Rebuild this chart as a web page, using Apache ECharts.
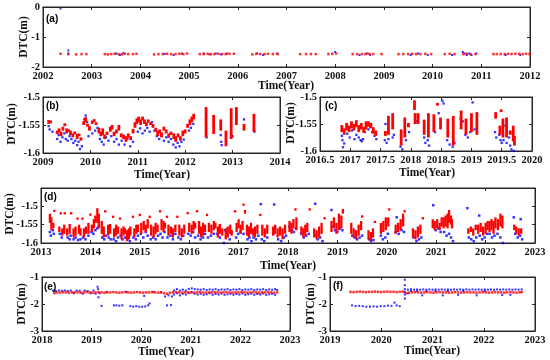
<!DOCTYPE html>
<html><head><meta charset="utf-8">
<script src="https://cdn.jsdelivr.net/npm/echarts@6/dist/echarts.min.js"></script>
<style>html,body{margin:0;padding:0;background:#fff}#c{width:550px;height:360px}</style>
</head><body><div id="c"></div>
<script>
// ---------- DATA ----------
// Panel (a): [year, DTC]
const A_RED = [[2002.36,-1.56],[2002.52,-1.57],[2002.68,-1.58],[2002.79,-1.57],[2002.89,-1.57],
[2003.27,-1.57],[2003.33,-1.58],[2003.4,-1.57],[2003.47,-1.56],[2003.55,-1.57],[2003.62,-1.58],[2003.68,-1.56],[2003.75,-1.57],[2003.85,-1.57],[2003.92,-1.56],
[2004.28,-1.58],[2004.37,-1.57],[2004.46,-1.57],[2004.55,-1.56],[2004.63,-1.57],[2004.72,-1.57],[2004.8,-1.56],[2004.88,-1.57],[2004.96,-1.55],
[2005.22,-1.57],[2005.3,-1.57],[2005.38,-1.56],[2005.45,-1.57],[2005.52,-1.57],[2005.6,-1.56],[2005.68,-1.57],[2005.75,-1.57],[2005.83,-1.56],[2005.92,-1.56],
[2006.3,-1.58],[2006.38,-1.56],[2006.46,-1.57],[2006.55,-1.57],[2006.62,-1.56],[2006.72,-1.57],[2006.82,-1.57],
[2007.28,-1.57],[2007.4,-1.57],[2007.5,-1.57],[2007.6,-1.57],[2007.86,-1.57],[2007.94,-1.56],[2008.02,-1.55],
[2008.36,-1.57],[2008.45,-1.57],[2008.55,-1.57],[2008.62,-1.57],[2008.7,-1.56],[2008.78,-1.57],[2008.95,-1.57],
[2009.3,-1.57],[2009.4,-1.57],[2009.5,-1.57],[2009.58,-1.56],[2009.66,-1.57],[2009.75,-1.57],[2009.85,-1.56],[2009.97,-1.57],
[2010.25,-1.57],[2010.35,-1.56],[2010.45,-1.57],[2010.63,-1.57],[2010.7,-1.56],[2010.78,-1.57],[2010.88,-1.57],
[2011.25,-1.57],[2011.32,-1.57],[2011.4,-1.57],[2011.48,-1.57],[2011.55,-1.56],[2011.62,-1.57],[2011.7,-1.56],[2011.78,-1.56],[2011.85,-1.57],[2011.92,-1.56],[2011.99,-1.57]];
const A_BLUE = [[2002.36,-0.05],[2002.52,-1.45],[2002.52,-1.55],[2003.5,-1.55],[2003.58,-1.6],[2003.65,-1.54],[2004.5,-1.56],[2004.68,-1.6],[2004.85,-1.55],
[2005.3,-1.55],[2005.42,-1.58],[2005.55,-1.55],[2005.65,-1.58],[2005.78,-1.55],[2006.4,-1.55],[2006.52,-1.6],[2006.8,-1.55],[2008.0,-1.5],
[2008.5,-1.6],[2008.65,-1.55],[2008.72,-1.6],[2009.55,-1.6],[2009.7,-1.55],[2009.9,-1.6],[2010.4,-1.6],[2010.62,-1.5],[2010.66,-1.55],
[2010.7,-1.6],[2010.75,-1.55],[2010.8,-1.6],[2010.9,-1.55],[2011.5,-1.6],[2011.8,-1.6]];

// Panel (b): red [year, low, high], blue [year, DTC]
const B_RED = [[2009.12,-1.548,-1.541],[2009.16,-1.546,-1.543],
[2009.3,-1.566,-1.56],[2009.34,-1.563,-1.556],[2009.38,-1.57,-1.562],[2009.42,-1.56,-1.553],[2009.46,-1.552,-1.547],[2009.5,-1.565,-1.556],[2009.54,-1.562,-1.558],[2009.58,-1.568,-1.56],
[2009.63,-1.572,-1.565],[2009.67,-1.566,-1.562],[2009.72,-1.575,-1.566],[2009.76,-1.57,-1.565],[2009.8,-1.578,-1.572],
[2009.86,-1.55,-1.543],[2009.9,-1.545,-1.536],[2009.94,-1.553,-1.548],[2009.98,-1.56,-1.552],
[2010.04,-1.548,-1.542],[2010.08,-1.544,-1.54],[2010.12,-1.55,-1.545],
[2010.18,-1.565,-1.555],[2010.22,-1.57,-1.562],[2010.26,-1.568,-1.556],[2010.3,-1.575,-1.567],[2010.35,-1.568,-1.562],
[2010.42,-1.562,-1.553],[2010.46,-1.558,-1.55],[2010.5,-1.57,-1.562],[2010.55,-1.565,-1.558],[2010.6,-1.56,-1.55],[2010.65,-1.572,-1.565],
[2010.7,-1.575,-1.567],[2010.75,-1.58,-1.57],[2010.8,-1.573,-1.565],[2010.85,-1.577,-1.57],[2010.9,-1.565,-1.557],[2010.94,-1.555,-1.545],
[2010.98,-1.548,-1.538],[2011.02,-1.545,-1.535],[2011.06,-1.55,-1.54],[2011.1,-1.542,-1.535],[2011.14,-1.548,-1.54],[2011.18,-1.552,-1.545],[2011.22,-1.546,-1.54],[2011.27,-1.55,-1.545],[2011.32,-1.555,-1.548],
[2011.38,-1.562,-1.555],[2011.42,-1.57,-1.56],[2011.46,-1.565,-1.558],[2011.5,-1.572,-1.563],[2011.55,-1.56,-1.553],[2011.6,-1.565,-1.558],[2011.65,-1.573,-1.565],[2011.7,-1.568,-1.562],
[2011.76,-1.575,-1.565],[2011.8,-1.58,-1.57],[2011.85,-1.572,-1.565],[2011.9,-1.578,-1.57],[2011.95,-1.57,-1.56],[2012.0,-1.565,-1.558],
[2012.05,-1.555,-1.548],[2012.1,-1.55,-1.54],[2012.14,-1.545,-1.535],[2012.18,-1.54,-1.53],
[2012.44,-1.572,-1.518],[2012.6,-1.566,-1.532],[2012.75,-1.56,-1.54],[2012.86,-1.588,-1.56],[2012.97,-1.575,-1.52],[2013.08,-1.55,-1.518],[2013.24,-1.56,-1.548],[2013.45,-1.562,-1.53]];
const B_BLUE = [[2009.12,-1.552],[2009.14,-1.558],[2009.2,-1.562],
[2009.3,-1.575],[2009.33,-1.568],[2009.37,-1.58],[2009.41,-1.572],[2009.45,-1.565],[2009.48,-1.575],[2009.52,-1.578],[2009.56,-1.57],
[2009.6,-1.575],[2009.64,-1.582],[2009.68,-1.578],[2009.72,-1.586],[2009.75,-1.58],[2009.78,-1.593],[2009.82,-1.588],
[2009.87,-1.54],[2009.9,-1.533],[2009.93,-1.545],[2009.96,-1.57],
[2010.04,-1.565],[2010.1,-1.56],[2010.15,-1.555],
[2010.2,-1.575],[2010.24,-1.58],[2010.28,-1.585],[2010.33,-1.572],[2010.38,-1.578],
[2010.44,-1.57],[2010.5,-1.58],[2010.55,-1.575],[2010.6,-1.585],[2010.66,-1.578],
[2010.72,-1.585],[2010.78,-1.575],[2010.84,-1.588],[2010.9,-1.58],
[2011.0,-1.562],[2011.05,-1.556],[2011.1,-1.565],[2011.15,-1.56],[2011.2,-1.555],[2011.25,-1.562],[2011.3,-1.545],[2011.35,-1.56],
[2011.4,-1.57],[2011.45,-1.575],[2011.5,-1.568],[2011.55,-1.578],[2011.6,-1.572],[2011.65,-1.58],[2011.7,-1.575],
[2011.75,-1.585],[2011.8,-1.59],[2011.84,-1.582],[2011.88,-1.588],[2011.92,-1.58],[2011.97,-1.576],
[2012.08,-1.56],[2012.12,-1.555],[2012.17,-1.548],
[2012.45,-1.572],[2012.75,-1.568],[2012.76,-1.58],[2012.77,-1.586],[2013.0,-1.57],[2013.24,-1.54],[2013.45,-1.558],[2013.46,-1.562]];

// Panel (c)
const C_RED = [[2016.86,-1.565,-1.552],[2016.9,-1.57,-1.558],
[2016.94,-1.562,-1.548],[2016.98,-1.565,-1.553],[2017.02,-1.558,-1.545],[2017.06,-1.562,-1.55],[2017.1,-1.556,-1.543],[2017.14,-1.565,-1.552],[2017.18,-1.56,-1.548],[2017.22,-1.566,-1.555],[2017.26,-1.56,-1.545],[2017.3,-1.555,-1.545],[2017.34,-1.558,-1.548],[2017.38,-1.568,-1.556],[2017.42,-1.572,-1.562],
[2017.58,-1.572,-1.563],[2017.63,-1.57,-1.535],[2017.7,-1.56,-1.53],
[2017.84,-1.59,-1.56],[2017.9,-1.575,-1.538],[2017.96,-1.556,-1.548],
[2018.06,-1.524,-1.506],[2018.07,-1.55,-1.53],[2018.12,-1.55,-1.53],
[2018.22,-1.57,-1.542],[2018.29,-1.575,-1.53],[2018.38,-1.565,-1.532],[2018.44,-1.515,-1.512],[2018.49,-1.56,-1.538],
[2018.61,-1.575,-1.54],[2018.7,-1.59,-1.535],[2018.83,-1.56,-1.525],[2018.91,-1.57,-1.54],[2019.0,-1.565,-1.53],[2019.09,-1.57,-1.528],
[2019.4,-1.54,-1.528],[2019.47,-1.57,-1.553],[2019.49,-1.527,-1.524],[2019.52,-1.575,-1.54],[2019.58,-1.575,-1.538],[2019.64,-1.57,-1.562],[2019.69,-1.582,-1.553],[2019.71,-1.59,-1.572]];
const C_BLUE = [[2016.86,-1.572],[2016.87,-1.58],[2016.88,-1.593],[2016.9,-1.586],
[2016.95,-1.568],[2016.99,-1.575],[2017.03,-1.562],[2017.07,-1.578],[2017.1,-1.57],[2017.14,-1.575],[2017.17,-1.58],[2017.19,-1.582],[2017.21,-1.578],[2017.24,-1.565],[2017.3,-1.56],[2017.33,-1.555],[2017.36,-1.565],[2017.4,-1.572],[2017.43,-1.578],
[2017.57,-1.58],[2017.58,-1.55],[2017.6,-1.585],[2017.63,-1.578],[2017.7,-1.575],[2017.72,-1.57],
[2017.83,-1.592],[2017.86,-1.597],[2017.9,-1.565],[2017.92,-1.58],[2017.97,-1.565],
[2018.07,-1.548],[2018.09,-1.545],
[2018.22,-1.575],[2018.24,-1.585],[2018.28,-1.58],[2018.3,-1.59],[2018.4,-1.565],
[2018.52,-1.507],[2018.54,-1.512],[2018.46,-1.53],
[2018.6,-1.58],[2018.64,-1.588],[2018.69,-1.592],[2018.72,-1.585],
[2018.82,-1.54],[2018.86,-1.545],[2018.9,-1.57],[2018.94,-1.575],[2018.98,-1.565],[2019.02,-1.51],[2019.05,-1.56],
[2019.39,-1.565],[2019.41,-1.575],[2019.46,-1.57],[2019.48,-1.58],[2019.5,-1.585],[2019.53,-1.58],[2019.56,-1.553],[2019.58,-1.585],[2019.62,-1.575],[2019.64,-1.59],[2019.66,-1.597],[2019.7,-1.6]];

// Panel (d)
const D_RED = [[2013.18,-1.545,-1.52],[2013.21,-1.565,-1.53],[2013.25,-1.56,-1.545],[2013.27,-1.515,-1.51],
[2013.37,-1.57,-1.555],[2013.4,-1.52,-1.518],[2013.43,-1.58,-1.56],[2013.47,-1.575,-1.55],[2013.48,-1.52,-1.518],
[2013.53,-1.58,-1.56],[2013.58,-1.575,-1.548],[2013.61,-1.52,-1.518],
[2013.66,-1.585,-1.56],[2013.7,-1.58,-1.555],[2013.74,-1.535,-1.532],[2013.77,-1.575,-1.55],
[2013.8,-1.58,-1.56],[2013.84,-1.535,-1.532],[2013.87,-1.585,-1.56],[2013.91,-1.575,-1.555],
[2013.96,-1.575,-1.545],[2014.0,-1.525,-1.52],[2014.03,-1.57,-1.55],[2014.07,-1.56,-1.535],[2014.1,-1.545,-1.525],
[2014.14,-1.545,-1.505],[2014.17,-1.56,-1.52],
[2014.23,-1.575,-1.54],[2014.27,-1.585,-1.555],[2014.3,-1.515,-1.512],
[2014.36,-1.58,-1.55],[2014.4,-1.575,-1.548],
[2014.46,-1.53,-1.527],[2014.48,-1.585,-1.56],[2014.52,-1.58,-1.55],[2014.56,-1.575,-1.555],
[2014.6,-1.535,-1.532],[2014.63,-1.59,-1.56],[2014.67,-1.58,-1.555],[2014.7,-1.575,-1.56],
[2014.74,-1.595,-1.565],[2014.78,-1.59,-1.56],[2014.81,-1.58,-1.555],
[2014.86,-1.53,-1.527],[2014.89,-1.585,-1.56],[2014.93,-1.575,-1.55],[2014.96,-1.57,-1.55],
[2015.0,-1.525,-1.522],[2015.03,-1.575,-1.545],[2015.08,-1.565,-1.54],[2015.12,-1.57,-1.55],[2015.16,-1.56,-1.535],
[2015.2,-1.53,-1.527],[2015.23,-1.58,-1.55],[2015.28,-1.585,-1.555],[2015.32,-1.575,-1.545],[2015.36,-1.57,-1.55],
[2015.41,-1.515,-1.512],[2015.44,-1.565,-1.535],[2015.48,-1.57,-1.54],[2015.51,-1.56,-1.545],
[2015.55,-1.53,-1.527],[2015.58,-1.58,-1.55],[2015.63,-1.575,-1.555],[2015.67,-1.585,-1.56],[2015.72,-1.57,-1.55],
[2015.76,-1.53,-1.527],[2015.8,-1.58,-1.55],[2015.85,-1.585,-1.56],[2015.9,-1.575,-1.55],
[2015.97,-1.52,-1.517],[2016.0,-1.57,-1.545],[2016.05,-1.575,-1.55],[2016.09,-1.565,-1.54],[2016.12,-1.56,-1.545],
[2016.16,-1.515,-1.512],[2016.2,-1.575,-1.54],[2016.24,-1.585,-1.555],[2016.28,-1.58,-1.545],[2016.32,-1.57,-1.55],
[2016.36,-1.525,-1.522],[2016.4,-1.57,-1.545],[2016.45,-1.575,-1.55],[2016.5,-1.565,-1.54],[2016.53,-1.56,-1.545],
[2016.58,-1.585,-1.555],[2016.62,-1.575,-1.548],[2016.67,-1.58,-1.56],
[2016.74,-1.59,-1.56],[2016.78,-1.585,-1.555],[2016.83,-1.575,-1.55],[2016.86,-1.58,-1.565],
[2016.93,-1.515,-1.512],[2016.96,-1.57,-1.545],[2017.0,-1.56,-1.535],
[2017.04,-1.575,-1.55],[2017.08,-1.565,-1.54],[2017.1,-1.497,-1.494],[2017.13,-1.52,-1.51],
[2017.17,-1.58,-1.55],[2017.21,-1.585,-1.555],[2017.25,-1.575,-1.545],
[2017.29,-1.58,-1.56],[2017.33,-1.585,-1.555],[2017.38,-1.575,-1.55],
[2017.44,-1.525,-1.522],[2017.48,-1.58,-1.55],[2017.53,-1.585,-1.56],[2017.58,-1.575,-1.55],
[2017.7,-1.58,-1.555],[2017.74,-1.575,-1.55],
[2017.79,-1.585,-1.56],[2017.84,-1.58,-1.555],[2017.89,-1.59,-1.56],[2017.94,-1.575,-1.55],
[2018.03,-1.57,-1.54],[2018.07,-1.575,-1.545],[2018.11,-1.56,-1.535],[2018.15,-1.51,-1.507],[2018.17,-1.565,-1.53],
[2018.27,-1.575,-1.555],[2018.31,-1.585,-1.56],[2018.35,-1.58,-1.55],[2018.39,-1.57,-1.545],[2018.44,-1.51,-1.507],
[2018.53,-1.585,-1.56],[2018.58,-1.59,-1.565],[2018.63,-1.585,-1.555],[2018.68,-1.575,-1.545],[2018.74,-1.535,-1.53],
[2018.88,-1.57,-1.54],[2018.93,-1.56,-1.53],[2018.98,-1.575,-1.545],[2019.03,-1.565,-1.52],[2019.08,-1.56,-1.525],[2019.11,-1.52,-1.507],
[2019.28,-1.575,-1.545],[2019.33,-1.585,-1.56],[2019.38,-1.59,-1.565],[2019.43,-1.58,-1.55],[2019.48,-1.565,-1.54],[2019.5,-1.53,-1.525],
[2019.63,-1.59,-1.565],[2019.68,-1.595,-1.57],[2019.72,-1.585,-1.56],[2019.76,-1.545,-1.54],
[2019.88,-1.575,-1.545],[2019.93,-1.57,-1.54],[2019.98,-1.565,-1.53],[2020.03,-1.555,-1.53],[2020.05,-1.51,-1.507],
[2020.18,-1.575,-1.55],[2020.23,-1.57,-1.545],[2020.28,-1.565,-1.535],[2020.33,-1.555,-1.52],[2020.36,-1.515,-1.512],
[2020.53,-1.585,-1.56],[2020.58,-1.59,-1.565],[2020.63,-1.585,-1.555],[2020.68,-1.575,-1.55],[2020.73,-1.535,-1.53],
[2020.93,-1.56,-1.535],[2020.97,-1.565,-1.54],[2021.02,-1.56,-1.535],[2021.07,-1.565,-1.545],[2021.11,-1.555,-1.53],
[2021.15,-1.56,-1.53],[2021.19,-1.555,-1.525],[2021.23,-1.56,-1.52],[2021.26,-1.545,-1.51],[2021.3,-1.55,-1.525],[2021.32,-1.56,-1.535],
[2021.65,-1.575,-1.56],[2021.7,-1.57,-1.555],[2021.75,-1.58,-1.56],[2021.8,-1.565,-1.55],
[2021.85,-1.575,-1.55],[2021.9,-1.57,-1.545],[2021.95,-1.58,-1.555],[2022.0,-1.575,-1.545],[2022.04,-1.565,-1.54],
[2022.08,-1.57,-1.54],[2022.12,-1.565,-1.535],[2022.16,-1.575,-1.54],[2022.2,-1.56,-1.53],[2022.25,-1.565,-1.535],[2022.3,-1.555,-1.52],[2022.34,-1.56,-1.525],
[2022.58,-1.565,-1.55],[2022.62,-1.575,-1.555],[2022.67,-1.58,-1.56],[2022.72,-1.575,-1.56]];
const D_BLUE = [[2013.18,-1.57],[2013.2,-1.58],[2013.24,-1.565],[2013.26,-1.575],
[2013.38,-1.575],[2013.42,-1.585],[2013.46,-1.57],[2013.54,-1.585],[2013.58,-1.59],[2013.6,-1.58],
[2013.66,-1.59],[2013.7,-1.585],[2013.75,-1.592],[2013.8,-1.59],[2013.85,-1.585],[2013.9,-1.59],
[2013.96,-1.58],[2014.02,-1.57],[2014.06,-1.575],[2014.1,-1.565],[2014.14,-1.56],[2014.17,-1.555],
[2014.24,-1.585],[2014.28,-1.59],[2014.31,-1.58],[2014.37,-1.585],[2014.41,-1.59],
[2014.47,-1.59],[2014.52,-1.595],[2014.56,-1.585],[2014.61,-1.58],[2014.65,-1.59],[2014.7,-1.585],
[2014.75,-1.59],[2014.8,-1.595],[2014.87,-1.585],[2014.92,-1.59],[2014.96,-1.58],
[2015.02,-1.575],[2015.07,-1.585],[2015.12,-1.57],[2015.16,-1.58],
[2015.22,-1.59],[2015.27,-1.585],[2015.32,-1.59],[2015.37,-1.58],[2015.42,-1.575],[2015.46,-1.585],[2015.5,-1.57],
[2015.56,-1.585],[2015.62,-1.58],[2015.67,-1.59],[2015.72,-1.575],[2015.78,-1.585],[2015.83,-1.59],[2015.88,-1.58],
[2015.98,-1.575],[2016.03,-1.58],[2016.08,-1.57],[2016.12,-1.585],
[2016.18,-1.58],[2016.23,-1.59],[2016.28,-1.585],[2016.32,-1.575],[2016.38,-1.585],[2016.44,-1.58],[2016.5,-1.575],
[2016.57,-1.575],[2016.62,-1.585],[2016.7,-1.6],[2016.73,-1.565],[2016.77,-1.58],[2016.82,-1.59],[2016.86,-1.57],
[2016.95,-1.585],[2016.99,-1.575],[2017.04,-1.57],[2017.1,-1.575],
[2017.18,-1.59],[2017.22,-1.585],[2017.26,-1.595],[2017.3,-1.585],[2017.35,-1.59],[2017.4,-1.58],
[2017.45,-1.494],[2017.47,-1.59],[2017.52,-1.595],[2017.58,-1.585],[2017.72,-1.495],[2017.7,-1.575],
[2017.8,-1.59],[2017.86,-1.595],[2017.92,-1.585],[2017.96,-1.58],
[2018.03,-1.555],[2018.08,-1.565],[2018.12,-1.57],[2018.16,-1.56],
[2018.27,-1.575],[2018.32,-1.585],[2018.37,-1.58],[2018.42,-1.575],
[2018.55,-1.493],[2018.55,-1.58],[2018.6,-1.59],[2018.65,-1.585],[2018.7,-1.595],
[2018.88,-1.51],[2018.9,-1.555],[2018.95,-1.565],[2019.0,-1.57],[2019.05,-1.56],[2019.1,-1.565],
[2019.3,-1.58],[2019.35,-1.585],[2019.4,-1.59],[2019.45,-1.585],[2019.5,-1.58],
[2019.64,-1.59],[2019.68,-1.595],[2019.73,-1.592],
[2019.88,-1.58],[2019.92,-1.59],[2019.97,-1.585],[2020.02,-1.575],
[2020.18,-1.57],[2020.2,-1.53],[2020.24,-1.575],[2020.3,-1.565],[2020.35,-1.57],
[2020.54,-1.585],[2020.6,-1.595],[2020.65,-1.59],[2020.7,-1.585],
[2020.94,-1.497],[2020.94,-1.55],[2020.99,-1.565],[2021.04,-1.56],[2021.09,-1.57],
[2021.16,-1.57],[2021.21,-1.58],[2021.26,-1.575],[2021.3,-1.585],[2021.34,-1.595],
[2021.63,-1.505],[2021.66,-1.585],[2021.71,-1.59],[2021.76,-1.595],[2021.81,-1.585],
[2021.87,-1.525],[2021.88,-1.58],[2021.93,-1.59],[2021.98,-1.585],[2022.03,-1.575],
[2022.08,-1.575],[2022.13,-1.585],[2022.18,-1.58],[2022.24,-1.575],[2022.3,-1.585],[2022.35,-1.6],
[2022.57,-1.53],[2022.6,-1.575],[2022.65,-1.585],[2022.7,-1.58],[2022.71,-1.535],[2022.74,-1.59]];

// Panel (e)
const E_RED = [[2018.25,-1.6],[2018.3,-1.57],[2018.36,-1.58],[2018.42,-1.56],[2018.48,-1.57],[2018.54,-1.58],[2018.6,-1.57],[2018.66,-1.56],[2018.72,-1.57],[2018.78,-1.58],[2018.84,-1.57],[2018.9,-1.56],[2018.96,-1.57],[2019.02,-1.58],[2019.08,-1.57],[2019.14,-1.56],[2019.2,-1.57],[2019.26,-1.58],[2019.32,-1.57],[2019.38,-1.57],[2019.44,-1.56],[2019.5,-1.57],[2019.56,-1.58],[2019.62,-1.57],[2019.68,-1.56],[2019.74,-1.57],[2019.8,-1.58],[2019.86,-1.57],[2019.92,-1.56],[2019.98,-1.57],[2020.04,-1.58],[2020.1,-1.57],[2020.16,-1.57],[2020.22,-1.56],[2020.28,-1.57],[2020.34,-1.58],[2020.4,-1.57],[2020.46,-1.6],[2020.52,-1.62],[2020.58,-1.58],[2020.64,-1.57],[2020.7,-1.56],[2020.76,-1.57],[2020.82,-1.58],[2020.88,-1.57],[2020.94,-1.56],[2021.0,-1.57],[2021.06,-1.58],[2021.12,-1.57],[2021.18,-1.56],[2021.24,-1.57],[2021.3,-1.58],[2021.36,-1.57],[2021.42,-1.57],[2021.48,-1.56],[2021.54,-1.57],[2021.6,-1.58],[2021.66,-1.57],[2021.72,-1.56],[2021.78,-1.57],[2021.84,-1.58],[2021.9,-1.57],[2021.96,-1.57],[2022.02,-1.56],[2022.08,-1.57],[2022.14,-1.58],[2022.2,-1.57],[2022.26,-1.56],[2022.32,-1.57],[2022.38,-1.58],[2022.44,-1.57],[2022.5,-1.57],[2022.56,-1.56],[2022.62,-1.57],[2022.68,-1.58],[2022.74,-1.57]];
const E_BLUE = [[2018.22,-1.5],[2018.28,-1.52],[2018.34,-1.5],[2018.4,-1.51],[2018.46,-1.5],[2018.52,-1.52],[2018.58,-1.5],[2018.64,-1.6],[2018.7,-1.5],[2018.76,-1.51],[2018.82,-1.62],[2018.86,-1.5],[2018.92,-1.52],[2018.98,-1.6],[2019.04,-1.5],[2019.08,-1.62],
[2019.12,-1.36],[2019.13,-1.45],[2019.14,-1.75],[2019.16,-1.6],[2019.2,-2.07],
[2019.3,-1.55],[2019.45,-2.05],[2019.5,-2.05],[2019.56,-2.06],[2019.62,-2.05],[2019.7,-1.55],[2019.78,-2.08],[2019.84,-2.1],[2019.9,-2.08],[2019.96,-2.1],[2020.02,-2.1],[2020.06,-1.7],[2020.08,-2.09],[2020.14,-2.05],[2020.17,-1.98],
[2020.25,-1.55],[2020.4,-1.56],[2020.48,-1.72],[2020.55,-1.68],[2020.52,-2.05],[2020.6,-2.04],[2020.62,-1.72],
[2020.66,-1.5],[2020.66,-1.65],[2020.72,-1.45],[2020.72,-1.6],[2020.78,-1.5],[2020.78,-1.68],[2020.84,-1.47],[2020.84,-1.62],[2020.9,-1.5],[2020.9,-1.65],[2020.96,-1.44],[2020.96,-1.6],[2021.02,-1.42],[2021.02,-1.55],[2021.08,-1.45],[2021.08,-1.62],
[2021.14,-1.46],[2021.14,-1.65],[2021.2,-1.47],[2021.2,-1.62],[2021.26,-1.45],[2021.26,-1.66],[2021.32,-1.48],[2021.32,-1.64],[2021.38,-1.46],[2021.38,-1.6],[2021.44,-1.47],[2021.44,-1.66],[2021.5,-1.45],[2021.5,-1.63],[2021.56,-1.48],[2021.56,-1.65],[2021.62,-1.46],[2021.62,-1.61],[2021.68,-1.47],[2021.68,-1.66],[2021.74,-1.45],[2021.74,-1.64],[2021.8,-1.48],[2021.8,-1.62],[2021.86,-1.46],[2021.86,-1.66],[2021.92,-1.47],[2021.92,-1.63],[2021.98,-1.45],[2021.98,-1.65],[2022.04,-1.48],[2022.04,-1.61],[2022.1,-1.46],[2022.1,-1.66],[2022.16,-1.47],[2022.16,-1.64],[2022.22,-1.45],[2022.22,-1.62],[2022.28,-1.48],[2022.28,-1.66],[2022.34,-1.46],[2022.34,-1.63],[2022.4,-1.47],[2022.4,-1.65],[2022.46,-1.45],[2022.46,-1.61],[2022.52,-1.48],[2022.52,-1.66],[2022.58,-1.46],[2022.58,-1.64],[2022.64,-1.47],[2022.64,-1.62],[2022.7,-1.45],[2022.7,-1.66],[2022.74,-1.48]];

// Panel (f)
const F_RED = [[2019.4,-1.55],[2019.46,-1.56],[2019.52,-1.55],[2019.58,-1.54],[2019.64,-1.55],[2019.7,-1.56],[2019.76,-1.55],[2019.82,-1.55],[2019.88,-1.54],[2019.94,-1.55],[2020.0,-1.56],[2020.06,-1.55],[2020.12,-1.54],[2020.18,-1.55],[2020.24,-1.55],[2020.3,-1.56],[2020.36,-1.55],[2020.42,-1.54],[2020.48,-1.6],[2020.54,-1.58],[2020.6,-1.57],[2020.66,-1.56],[2020.72,-1.57],[2020.78,-1.58],[2020.84,-1.57],[2020.9,-1.56],[2020.96,-1.57],[2021.02,-1.58],[2021.08,-1.57],[2021.14,-1.56],[2021.2,-1.57],[2021.26,-1.57],[2021.32,-1.58],[2021.38,-1.57],[2021.44,-1.56],[2021.5,-1.57],[2021.56,-1.58],[2021.62,-1.57],[2021.68,-1.56],[2021.74,-1.57],[2021.8,-1.57],[2021.86,-1.58],[2021.92,-1.57],[2021.98,-1.56],[2022.04,-1.57],[2022.1,-1.58],[2022.16,-1.57],[2022.22,-1.56],[2022.28,-1.57],[2022.34,-1.57],[2022.4,-1.58],[2022.46,-1.57],[2022.52,-1.56],[2022.58,-1.57],[2022.64,-1.58],[2022.7,-1.57],[2022.74,-1.56]];
const F_BLUE = [[2019.43,-2.05],[2019.5,-2.08],[2019.57,-2.07],[2019.64,-2.08],[2019.71,-2.1],[2019.78,-2.1],[2019.85,-2.09],[2019.92,-2.1],[2019.99,-2.08],[2020.06,-2.08],[2020.13,-2.06],[2020.2,-2.07],[2020.26,-1.95],[2020.3,-2.05],[2020.36,-2.08],
[2020.46,-1.1],[2020.46,-1.3],[2020.46,-1.45],[2020.46,-1.55],[2020.46,-1.65],[2020.46,-1.8],
[2020.52,-1.47],[2020.52,-1.6],[2020.58,-1.45],[2020.58,-1.52],[2020.64,-1.47],[2020.7,-1.46],[2020.7,-1.52],[2020.76,-1.47],[2020.8,-1.68],[2020.82,-1.46],[2020.88,-1.47],[2020.88,-1.53],[2020.94,-1.46],[2021.0,-1.47],[2021.06,-1.46],[2021.06,-1.52],[2021.12,-1.47],[2021.18,-1.46],[2021.2,-1.68],[2021.24,-1.47],[2021.3,-1.46],[2021.3,-1.52],[2021.36,-1.47],[2021.42,-1.46],[2021.48,-1.47],[2021.5,-1.66],[2021.54,-1.46],[2021.6,-1.47],[2021.6,-1.52],[2021.66,-1.46],[2021.72,-1.47],[2021.78,-1.46],[2021.84,-1.47],[2021.86,-1.68],[2021.9,-1.46],[2021.96,-1.47],[2022.02,-1.46],[2022.02,-1.52],[2022.08,-1.47],[2022.14,-1.46],[2022.2,-1.47],[2022.26,-1.46],[2022.32,-1.47],[2022.36,-1.67],[2022.38,-1.46],[2022.44,-1.47],[2022.5,-1.46],[2022.52,-1.66],[2022.56,-1.47],[2022.62,-1.46],[2022.68,-1.47],[2022.74,-1.46]];

// Axis ranges [min, max, interval]
const X_RANGES = {a:[2002,2012,1], b:[2009,2014,1], c:[2016.5,2020,0.5], d:[2013,2023,1], e:[2018,2023,1], f:[2019,2023,1]};
const Y_RANGES = {a:[-2,0,1], b:[-1.6,-1.5,0.05], c:[-1.6,-1.5,0.05], d:[-1.6,-1.45,0.05], e:[-3,-1,1], f:[-3,-1,1]};
const PANEL_LABELS = ['(a)','(b)','(c)','(d)','(e)','(f)'];
const X_TITLE = 'Time(Year)';
const Y_TITLE = 'DTC(m)';

// ---------- LAYOUT ----------
const SERIF = '"Liberation Serif","Times New Roman",serif';
const LINE = '#262626';
const layout = {
  a:{left:43, top:7, width:487, height:60, xt:[286,86], yt:[24,37], pl:[46,19]},
  b:{left:43, top:97, width:237, height:56, xt:[162,175], yt:[12,124], pl:[46,106]},
  c:{left:320, top:97, width:212, height:54, xt:[427,173], yt:[291,123], pl:[325,106]},
  d:{left:41, top:188, width:494, height:55, xt:[288,266], yt:[10,214], pl:[44,197]},
  e:{left:42, top:277, width:248, height:54, xt:[166,352], yt:[22,304], pl:[44,287]},
  f:{left:330, top:277, width:205, height:54, xt:[432,351], yt:[311,304], pl:[333,286]}
};
const series = {
  a:{red:A_RED, blue:A_BLUE, redRange:false, rs:2.5, bs:2},
  b:{red:B_RED, blue:B_BLUE, redRange:true, rs:2.8, bs:2.3},
  c:{red:C_RED, blue:C_BLUE, redRange:true, rs:2.8, bs:2.3},
  d:{red:D_RED, blue:D_BLUE, redRange:true, rs:2.3, bs:2.5},
  e:{red:E_RED, blue:E_BLUE, redRange:false, rs:2.5, bs:2},
  f:{red:F_RED, blue:F_BLUE, redRange:false, rs:2.5, bs:2}
};
const keys = ['a','b','c','d','e','f'];

function fmtNum(v, dec){ const r = Math.round(v*Math.pow(10,dec))/Math.pow(10,dec); return String(r); }

const grids=[], xAxes=[], yAxes=[], allSeries=[], graphics=[];
keys.forEach((k,i)=>{
  const L = layout[k], S = series[k], X = X_RANGES[k], Y = Y_RANGES[k];
  grids.push({left:L.left, top:L.top, width:L.width, height:L.height, show:true, borderColor:LINE, borderWidth:1, backgroundColor:'#fff', containLabel:false, outerBoundsMode:'none'});
  const tick = {show:true, inside:true, length:3, lineStyle:{color:LINE, width:1}};
  const lbl = {fontFamily:SERIF, fontWeight:'bold', fontSize:10.5, color:'#111'};
  xAxes.push({type:'value', gridIndex:i, min:X[0], max:X[1], interval:X[2], position:'bottom',
    axisLine:{show:true, onZero:false, lineStyle:{color:LINE}}, axisTick:tick, splitLine:{show:false},
    axisLabel:Object.assign({margin:4, formatter:v=>fmtNum(v,1), showMinLabel:true, showMaxLabel:true}, lbl)});
  xAxes.push({type:'value', gridIndex:i, min:X[0], max:X[1], interval:X[2], position:'top',
    axisLine:{show:true, onZero:false, lineStyle:{color:LINE}}, axisTick:tick, splitLine:{show:false}, axisLabel:{show:false}});
  yAxes.push({type:'value', gridIndex:i, min:Y[0], max:Y[1], interval:Y[2], position:'left',
    axisLine:{show:true, onZero:false, lineStyle:{color:LINE}}, axisTick:tick, splitLine:{show:false},
    axisLabel:Object.assign({margin:3, showMinLabel:true, showMaxLabel:true, formatter:v=>{
      if (k==='d' && Math.abs(v-(-1.45))<1e-6) return '';
      return fmtNum(v,2);}}, lbl)});
  yAxes.push({type:'value', gridIndex:i, min:Y[0], max:Y[1], interval:Y[2], position:'right',
    axisLine:{show:true, onZero:false, lineStyle:{color:LINE}}, axisTick:tick, splitLine:{show:false}, axisLabel:{show:false}});
  allSeries.push({type:'scatter', xAxisIndex:2*i, yAxisIndex:2*i, data:S.blue, symbol:'rect', symbolSize:S.bs,
    itemStyle:{color:'#0000ff'}, silent:true, animation:false, z:2});
  if (S.redRange) {
    const w = S.rs;
    allSeries.push({type:'custom', xAxisIndex:2*i, yAxisIndex:2*i, data:S.red, silent:true, animation:false, z:3,
      encode:{x:0, y:[1,2]},
      renderItem:(params, api)=>{
        const t = api.value(0), lo = api.value(1), hi = api.value(2);
        const p1 = api.coord([t, hi]), p2 = api.coord([t, lo]);
        let top = p1[1], h = p2[1]-p1[1];
        if (h < w) { top -= (w-h)/2; h = w; }
        return {type:'rect', shape:{x:p1[0]-w/2, y:top, width:w, height:h}, style:{fill:'#ff0000'}};
      }});
  } else {
    allSeries.push({type:'scatter', xAxisIndex:2*i, yAxisIndex:2*i, data:S.red, symbol:'rect', symbolSize:S.rs,
      itemStyle:{color:'#ff0000'}, silent:true, animation:false, z:3});
  }
  graphics.push({type:'text', x:L.pl[0], y:L.pl[1], z:10, style:{text:PANEL_LABELS[i], font:'bold 10px "Liberation Sans",Arial,sans-serif', fill:'#000', align:'left', verticalAlign:'middle', textAlign:'left', textVerticalAlign:'middle'}});
  graphics.push({type:'text', x:L.xt[0], y:L.xt[1], z:10, style:{text:X_TITLE, font:'bold 11.5px '+SERIF, fill:'#111', align:'center', verticalAlign:'middle', textAlign:'center', textVerticalAlign:'middle'}});
  graphics.push({type:'text', x:L.yt[0], y:L.yt[1], rotation:Math.PI/2, z:10, style:{text:Y_TITLE, font:'bold 11.5px '+SERIF, fill:'#111', align:'center', verticalAlign:'middle', textAlign:'center', textVerticalAlign:'middle'}});
});

const chart = echarts.init(document.getElementById('c'), null, {renderer:'canvas'});
chart.setOption({animation:false, backgroundColor:'#fff', grid:grids, xAxis:xAxes, yAxis:yAxes, series:allSeries, graphic:graphics});
</script></body></html>
